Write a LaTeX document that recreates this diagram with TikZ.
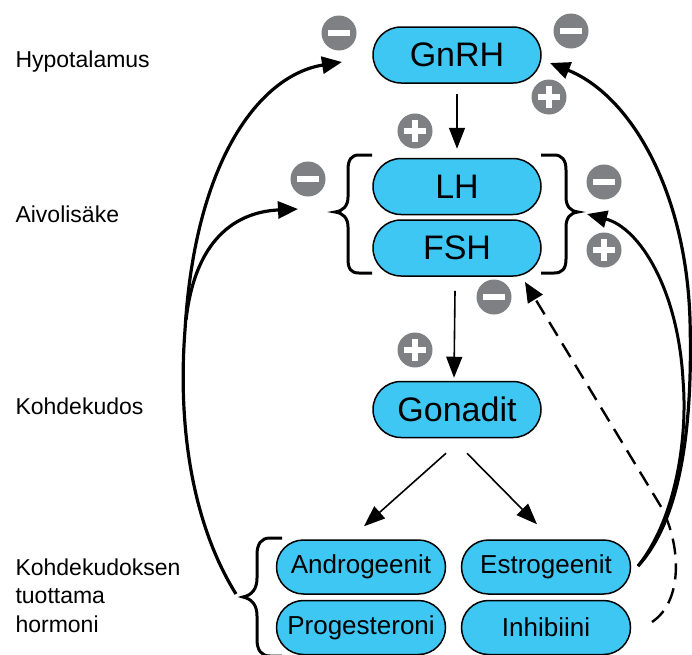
\documentclass[tikz,border=0pt]{standalone}
\usepackage{fontspec}
\setmainfont{Liberation Sans}
\usetikzlibrary{arrows.meta,positioning,shapes.misc}
\definecolor{hormBlue}{HTML}{3FC7F4}
\definecolor{signGray}{HTML}{7F8084}
\tikzset{
  hormoni/.style={draw=black, line width=1.5pt, fill=hormBlue, rounded rectangle, inner sep=0pt, minimum width=168pt, minimum height=56pt, font=\fontsize{34}{34}\selectfont},
  tuote/.style={hormoni, minimum width=169pt, minimum height=54pt, font=\fontsize{26}{26}\selectfont},
  taso/.style={anchor=base west, align=left, font=\fontsize{23}{28.5}\selectfont},
  merkki/.style={circle, fill=signGray, minimum size=35pt, inner sep=0pt},
  miinus/.style={merkki, path picture={\draw[white, line width=6pt] ([xshift=-11pt]path picture bounding box.center) -- ([xshift=11pt]path picture bounding box.center);}},
  plussa/.style={merkki, path picture={\draw[white, line width=6pt] ([xshift=-11pt]path picture bounding box.center) -- ([xshift=11pt]path picture bounding box.center) ([yshift=-11pt]path picture bounding box.center) -- ([yshift=11pt]path picture bounding box.center);}},
  nuoli/.style={-{Triangle[length=21pt,width=16pt]}, line width=1.6pt},
  palaute/.style={-{Triangle[length=20pt,width=17pt]}, line width=3.2pt},
  sulje/.style={line width=3pt},
}
\begin{document}
\begin{tikzpicture}[x=1pt, y=-1pt]
\useasboundingbox (0,0) rectangle (692,654);
% Tasot
\node[taso] (hypo) at (12,67) {Hypotalamus};
\node[taso] (aivo) at (12,222) {Aivolisäke};
\node[taso] (kohde) at (12,414) {Kohdekudos};
\node[taso] (tuot) at (12,632) {Kohdekudoksen\\tuottama\\hormoni};

% Hormonit
\node[hormoni] (gnrh) at (457,55) {GnRH};
\node[hormoni, below=74pt of gnrh] (lh) {LH};
\node[hormoni, below=4pt of lh] (fsh) {FSH};
\node[hormoni, below=104pt of fsh] (gonadit) {Gonadit};
\node[tuote] (andro) at (361,567) {Androgeenit};
\node[tuote, below=5pt of andro] (proge) {Progesteroni};
\node[tuote] (estro) at (546,567) {Estrogeenit};
\node[tuote, below=5pt of estro] (inhib) {Inhibiini};

% Sulkeet
\draw[sulje] (372,155) -- (359,155) .. controls (351,155) and (348,160) .. (348,170) -- (348,197) .. controls (348,206) and (343,211) .. (335,212) .. controls (343,213) and (348,218) .. (348,227) -- (348,259) .. controls (348,269) and (351,273) .. (359,273) -- (372,273);
\draw[sulje] (541,155) -- (554,155) .. controls (562,155) and (566,160) .. (566,170) -- (566,197) .. controls (566,206) and (570,211) .. (578,212) .. controls (570,213) and (566,218) .. (566,227) -- (566,259) .. controls (566,269) and (562,273) .. (554,273) -- (541,273);
\draw[sulje] (282,538) -- (270,538) .. controls (261,538) and (257,544) .. (257,555) -- (257,578) .. controls (257,589) and (252,595) .. (243,597) .. controls (252,599) and (257,605) .. (257,616) -- (257,639) .. controls (257,650) and (261,656) .. (270,656) -- (282,656);

% Merkit
\node[miinus] (m1) at (339,33) {};
\node[miinus] (m2) at (571,31) {};
\node[plussa] (p1) at (549,97) {};
\node[plussa] (p2) at (415,131) {};
\node[miinus] (m3) at (308,179) {};
\node[miinus] (m4) at (604,182) {};
\node[plussa] (p3) at (604,250) {};
\node[miinus] (m5) at (494,297) {};
\node[plussa] (p4) at (415,350) {};

% Nuolet
\draw[nuoli] ([yshift=-10pt]gnrh.south) -- ([yshift=9pt]lh.north);
\draw[nuoli] ([xshift=-2pt,yshift=-14pt]fsh.south) -- ([xshift=-3pt,yshift=3pt]gonadit.north);
\draw[nuoli] ([xshift=-11pt,yshift=-15pt]gonadit.south) -- ([xshift=3pt,yshift=13pt]andro.north);
\draw[nuoli] ([xshift=10pt,yshift=-15pt]gonadit.south) -- ([xshift=-9pt,yshift=15pt]estro.north);

% Palaute
\coordinate (vas) at (236,594);
\coordinate (haara) at (186,320);
\coordinate (gnrhV) at (342,62);
\coordinate (lhV) at (298,209);
\draw[palaute] (vas) .. controls (190,520) and (178,420) .. (185,330) .. controls (195,160) and (260,75) .. (gnrhV);
\draw[palaute] (haara) .. controls (195,240) and (235,212) .. (lhV);

\coordinate (oik) at (638,566);
\coordinate (gnrhO) at (550,63);
\coordinate (lhO) at (587,214);
\draw[palaute] (oik) .. controls (680,520) and (693,430) .. (690,320) .. controls (686,190) and (630,95) .. (gnrhO);
\draw[palaute, line width=3pt] (oik) .. controls (675,520) and (688,440) .. (683,380) .. controls (678,290) and (640,228) .. (lhO);

\coordinate (inhO) at (652,622);
\coordinate (mutka) at (660,505);
\coordinate (fshO) at (525,282);
\draw[palaute, line width=2.4pt, dash pattern=on 16pt off 9pt] (inhO) .. controls (685,600) and (680,540) .. (mutka) -- (fshO);
\end{tikzpicture}
\end{document}
